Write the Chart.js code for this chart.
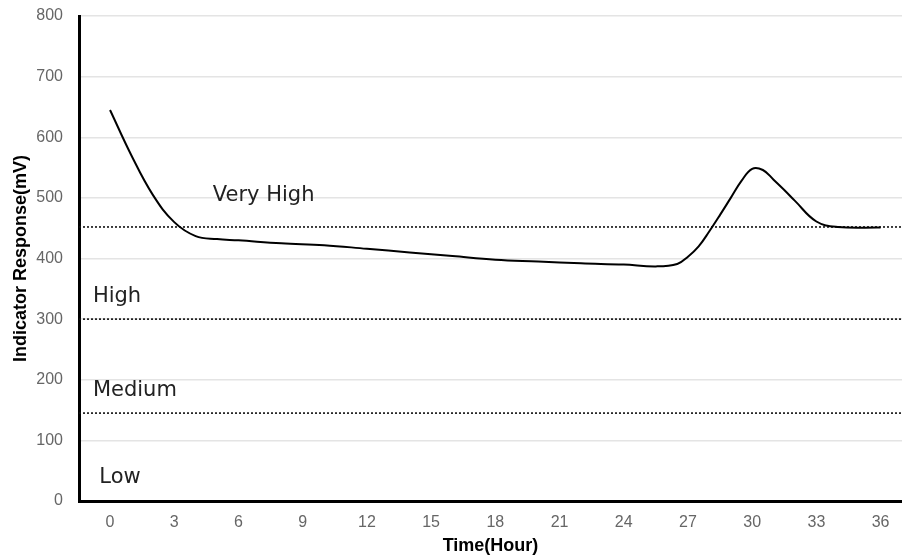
<!DOCTYPE html>
<html>
<head>
<meta charset="utf-8">
<script src="https://cdn.jsdelivr.net/npm/chart.js@4/dist/chart.umd.min.js"></script>
<style>
  html, body { margin: 0; padding: 0; background: #fff; }
  #wrap { width: 902px; height: 557px; }
</style>
</head>
<body>
<div id="wrap"><canvas id="chart" width="902" height="557"></canvas></div>
<script>
// time in hours and response in mV
const hours = [0, 1, 2, 3, 4, 5, 6, 8, 10, 12, 14, 16, 18, 20, 22, 24, 25.5, 26.5, 27, 27.5, 28, 28.5, 29, 29.5, 30, 30.5, 31, 31.5, 32, 33, 34, 36];
const response = [645, 570, 505, 460, 437, 432, 430, 425, 422, 416, 410, 404, 398, 395, 392, 390, 387, 391, 403, 420, 445, 472, 500, 528, 548, 546, 530, 513, 495, 461, 452, 451];

const xTickValues = [0, 3, 6, 9, 12, 15, 18, 21, 24, 27, 30, 33, 36];
const thresholds = [452, 300, 145];
const zoneNames = ['Very High', 'High', 'Medium', 'Low'];
const zoneAnchorHour = [4.8, -0.8, -0.8, -0.5];
const zoneAnchorMv = [495, 329, 173, 30];

const xMin = -1.45, xMax = 37;

const curve = hours.map((h, i) => ({ x: h, y: response[i] }));

const thresholdSets = thresholds.map(v => ({
    data: [{ x: xMin, y: v }, { x: xMax, y: v }],
    borderColor: '#111',
    borderWidth: 1.6,
    borderDash: [2, 2],
    pointRadius: 0,
    tension: 0
}));

// zone names written inside the plot
const zoneText = {
    id: 'zoneText',
    afterDatasetsDraw(chart) {
        const ctx = chart.ctx;
        const xs = chart.scales.x, ys = chart.scales.y;
        ctx.save();
        ctx.font = '21px "DejaVu Sans", sans-serif';
        ctx.fillStyle = '#222';
        ctx.textBaseline = 'alphabetic';
        ctx.textAlign = 'left';
        zoneNames.forEach((name, i) => {
            ctx.fillText(name, xs.getPixelForValue(zoneAnchorHour[i]), ys.getPixelForValue(zoneAnchorMv[i]));
        });
        ctx.restore();
    }
};

const axisFont = '"Liberation Sans", Arial, sans-serif';

new Chart(document.getElementById('chart').getContext('2d'), {
    type: 'line',
    data: {
        datasets: [{
            data: curve,
            borderColor: '#000',
            borderWidth: 2,
            pointRadius: 0,
            tension: 0.4,
            fill: false
        }, ...thresholdSets]
    },
    options: {
        responsive: false,
        animation: false,
        layout: { padding: { top: 16, right: 0, left: 0, bottom: 0 } },
        plugins: { legend: { display: false }, tooltip: { enabled: false } },
        scales: {
            x: {
                type: 'linear',
                min: xMin,
                max: xMax,
                afterBuildTicks: s => { s.ticks = xTickValues.map(v => ({ value: v })); },
                afterFit: s => { s.height = 56; s.paddingLeft = 0; s.paddingRight = 0; },
                grid: { display: false, drawTicks: false },
                border: { color: '#000', width: 3 },
                ticks: {
                    color: '#666',
                    font: { family: axisFont, size: 16 },
                    padding: 12,
                    maxRotation: 0
                },
                title: {
                    display: true,
                    text: 'Time(Hour)',
                    color: '#000',
                    font: { family: axisFont, size: 18, weight: 'bold' },
                    padding: { top: 0, bottom: 0 }
                }
            },
            y: {
                min: 0,
                max: 800,
                ticks: {
                    stepSize: 100,
                    color: '#666',
                    font: { family: axisFont, size: 16 },
                    padding: 16
                },
                afterFit: s => { s.width = 79; s.paddingTop = 0; s.paddingBottom = 0; },
                grid: { color: '#e4e4e4', lineWidth: 1.5, drawTicks: false },
                border: { color: '#000', width: 3 },
                title: {
                    display: true,
                    text: 'Indicator Response(mV)',
                    color: '#000',
                    font: { family: axisFont, size: 18, weight: 'bold' },
                    padding: { top: 10, bottom: 0 }
                }
            }
        }
    },
    plugins: [zoneText]
});
</script>
</body>
</html>
